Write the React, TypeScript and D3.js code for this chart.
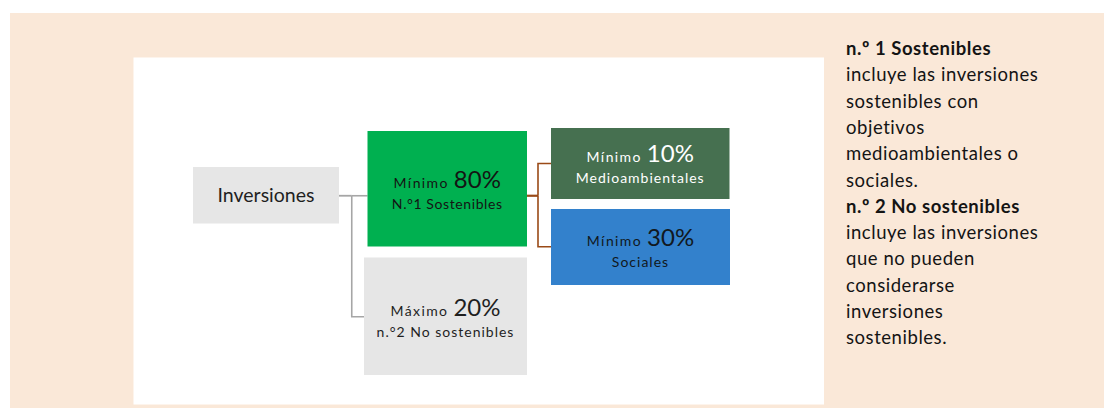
import React from "react";
import * as d3 from "d3";

// ---- data ----
const nodeIds = ["root", "sost", "nosost", "medio", "social"];
const nodeParents = ["", "root", "root", "sost", "sost"];
const nodePrefix = ["", "Mínimo", "Máximo", "Mínimo", "Mínimo"];
const nodePercent = ["", "80%", "20%", "10%", "30%"];
const nodeSubLabel = ["Inversiones", "N.°1 Sostenibles", "n.°2 No sostenibles", "Medioambientales", "Sociales"];

const notesText = [
  "n.º 1 Sostenibles",
  "incluye las inversiones",
  "sostenibles con",
  "objetivos",
  "medioambientales o",
  "sociales.",
  "n.º 2 No sostenibles",
  "incluye las inversiones",
  "que no pueden",
  "considerarse",
  "inversiones",
  "sostenibles.",
];
const notesBold = [true, false, false, false, false, false, true, false, false, false, false, false];

// ---- layout (styles / geometry) ----
const W = 1108;
const H = 408;
const FONT = "Lato, 'Open Sans', sans-serif";

type Box = { x0: number; x1: number; y0: number; y1: number; fill: string; text: string };
const boxGeom: Record<string, Box> = {
  root: { x0: 193, x1: 339, y0: 167, y1: 223.5, fill: "#e6e6e6", text: "#1f1f1f" },
  sost: { x0: 367.5, x1: 527, y0: 131, y1: 246.5, fill: "#00b050", text: "#141414" },
  nosost: { x0: 364, x1: 527, y0: 257.5, y1: 375, fill: "#e6e6e6", text: "#1f1f1f" },
  medio: { x0: 551, x1: 729.5, y0: 128, y1: 199, fill: "#467050", text: "#ffffff" },
  social: { x0: 551, x1: 730, y0: 209, y1: 285, fill: "#3381cc", text: "#111820" },
};
const lineBaselines: Record<string, [number, number]> = {
  sost: [187.5, 209],
  nosost: [316, 337],
  medio: [162, 183],
  social: [246, 267],
};

export default function App() {
  const rows = nodeIds.map((id, i) => ({
    id,
    parent: nodeParents[i] || null,
    prefix: nodePrefix[i],
    percent: nodePercent[i],
    sub: nodeSubLabel[i],
  }));
  const root = d3
    .stratify<(typeof rows)[number]>()
    .id((d) => d.id)
    .parentId((d) => d.parent)(rows);

  const nodes = root.descendants();

  // connectors (elbow lines)
  const connectors: { d: string; color: string; width: number }[] = [];
  const elbowX: Record<string, number> = { root: 351.75, sost: 538 };
  const connColor: Record<string, string> = { root: "#a6a6a6", sost: "#9a4a17" };
  nodes.forEach((n) => {
    if (!n.children) return;
    const pb = boxGeom[n.id!];
    const py = 195.75;
    const ex = elbowX[n.id!];
    const p = d3.path();
    p.moveTo(pb.x1, py);
    p.lineTo(ex, py);
    connectors.push({ d: p.toString(), color: connColor[n.id!], width: n.id === "sost" ? 2.2 : 1.8 });
    n.children.forEach((c) => {
      const cb = boxGeom[c.id!];
      const cy = n.id === "root" ? (c.id === "sost" ? py : 316.75) : c.id === "medio" ? 163.5 : 246.75;
      const q = d3.path();
      q.moveTo(ex, py);
      q.lineTo(ex, cy);
      q.lineTo(cb.x0, cy);
      connectors.push({ d: q.toString(), color: connColor[n.id!], width: 1.6 });
    });
  });

  const noteY = d3.scaleLinear().domain([0, 1]).range([55, 81.3]);

  return (
    <svg
      width={W}
      height={H}
      viewBox={`0 0 ${W} ${H}`}
      style={{ position: "absolute", left: 0, top: 0, display: "block" }}
      fontFamily={FONT}
    >
      <rect x={0} y={0} width={W} height={H} fill="#ffffff" />
      <rect x={10} y={13} width={1094} height={H - 13} fill="#fae8d8" />
      <rect x={133.5} y={57.5} width={690.5} height={347} fill="#ffffff" />

      {connectors.map((c, i) => (
        <path key={i} d={c.d} fill="none" stroke={c.color} strokeWidth={c.width} />
      ))}

      {nodes.map((n) => {
        const b = boxGeom[n.id!];
        const d = n.data;
        const cx = (b.x0 + b.x1) / 2;
        return (
          <g key={n.id}>
            <rect x={b.x0} y={b.y0} width={b.x1 - b.x0} height={b.y1 - b.y0} fill={b.fill} />
            {n.depth === 0 ? (
              <text x={cx} y={202} textAnchor="middle" fontSize={19.5} fill={b.text}>
                {d.sub}
              </text>
            ) : (
              <>
                <text x={cx} y={lineBaselines[n.id!][0]} textAnchor="middle" fill={b.text}>
                  <tspan fontSize={14} letterSpacing={1.4}>{d.prefix} </tspan>
                  <tspan fontSize={24}>{d.percent}</tspan>
                </text>
                <text
                  x={cx}
                  y={lineBaselines[n.id!][1]}
                  textAnchor="middle"
                  fontSize={14}
                  letterSpacing={n.id === "sost" ? 0.6 : 1}
                  fill={b.text}
                >
                  {d.sub}
                </text>
              </>
            )}
          </g>
        );
      })}

      {notesText.map((t, i) => (
        <text
          key={i}
          x={846}
          y={noteY(i)}
          fontSize={18.5}
          letterSpacing={0.55}
          fontWeight={notesBold[i] ? 700 : 400}
          fill="#141414"
        >
          {t}
        </text>
      ))}
    </svg>
  );
}
